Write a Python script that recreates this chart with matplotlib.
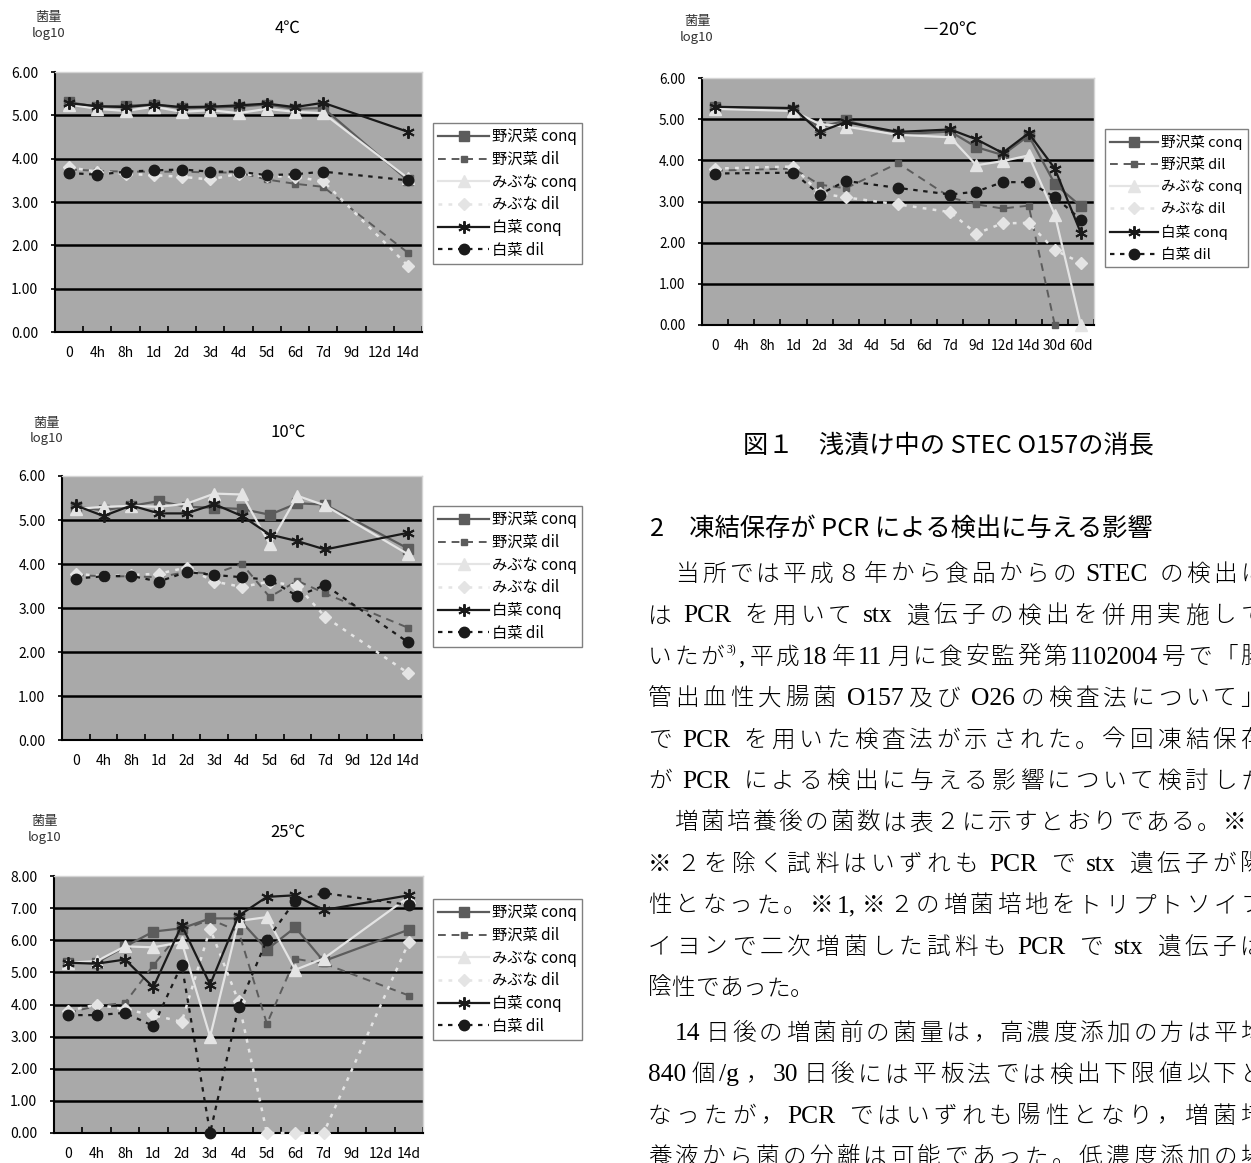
import re
import numpy as np
import matplotlib
matplotlib.use('Agg')
import matplotlib.pyplot as plt
from matplotlib.ticker import FormatStrFormatter

plt.rcParams['font.family'] = ['Noto Sans CJK JP', 'DejaVu Sans']

nan = np.nan
W, H = 1251, 1163

cats_short = ['0', '4h', '8h', '1d', '2d', '3d', '4d', '5d', '6d', '7d', '9d', '12d', '14d']
cats_long = cats_short + ['30d', '60d']
names = ['野沢菜 conq', '野沢菜 dil', 'みぶな conq', 'みぶな dil', '白菜 conq', '白菜 dil']

# 4℃
noz_conq_4 = [5.30, 5.20, 5.22, 5.25, 5.17, 5.18, 5.20, 5.25, 5.15, 5.17, nan, nan, 3.50]
noz_dil_4 = [3.75, 3.72, 3.70, 3.70, 3.70, 3.68, 3.68, 3.52, 3.42, 3.35, nan, nan, 1.83]
mib_conq_4 = [5.25, 5.15, 5.10, 5.20, 5.08, 5.12, 5.05, 5.15, 5.08, 5.05, nan, nan, 3.55]
mib_dil_4 = [3.80, 3.70, 3.65, 3.62, 3.58, 3.52, 3.65, 3.60, 3.58, 3.48, nan, nan, 1.53]
hak_conq_4 = [5.28, 5.21, 5.19, 5.25, 5.19, 5.20, 5.23, 5.27, 5.19, 5.29, nan, nan, 4.62]
hak_dil_4 = [3.67, 3.63, 3.70, 3.73, 3.75, 3.70, 3.70, 3.62, 3.64, 3.70, nan, nan, 3.50]

# 10℃
noz_conq_10 = [5.30, 5.22, 5.32, 5.43, 5.30, 5.28, 5.25, 5.12, 5.38, 5.35, nan, nan, 4.35]
noz_dil_10 = [3.75, 3.72, 3.72, 3.70, 3.82, 3.78, 4.00, 3.25, 3.62, 3.33, nan, nan, 2.55]
mib_conq_10 = [5.25, 5.30, 5.32, 5.30, 5.37, 5.60, 5.58, 4.45, 5.55, 5.33, nan, nan, 4.22]
mib_dil_10 = [3.78, 3.72, 3.75, 3.78, 3.92, 3.60, 3.48, 3.60, 3.50, 2.80, nan, nan, 1.52]
hak_conq_10 = [5.33, 5.09, 5.33, 5.15, 5.15, 5.36, 5.09, 4.67, 4.52, 4.33, nan, nan, 4.71]
hak_dil_10 = [3.67, 3.72, 3.73, 3.60, 3.82, 3.75, 3.70, 3.64, 3.27, 3.52, nan, nan, 2.22]

# 25℃
noz_conq_25 = [5.30, 5.30, 5.80, 6.27, 6.37, 6.68, 6.68, 5.71, 6.40, 5.35, nan, nan, 6.33]
noz_dil_25 = [3.75, 3.95, 4.05, 5.22, 6.30, 6.65, 6.28, 3.40, 5.42, 5.28, nan, nan, 4.28]
mib_conq_25 = [5.30, 5.35, 5.81, 5.78, 5.94, 3.00, 6.60, 6.72, 5.08, 5.43, nan, nan, 7.35]
mib_dil_25 = [3.80, 4.00, 3.85, 3.67, 3.46, 6.36, 4.10, 0.00, 0.00, 0.00, nan, nan, 5.94]
hak_conq_25 = [5.30, 5.27, 5.40, 4.54, 6.47, 4.62, 6.76, 7.35, 7.40, 6.94, nan, nan, 7.40]
hak_dil_25 = [3.67, 3.67, 3.74, 3.33, 5.24, 0.00, 3.92, 6.01, 7.23, 7.47, nan, nan, 7.10]

# -20℃
noz_conq_m20 = [5.30, nan, nan, 5.22, 4.80, 4.97, nan, 4.63, nan, 4.70, 4.32, 4.13, 4.60, 3.43, 2.88]
noz_dil_m20 = [3.75, nan, nan, 3.80, 3.41, 3.32, nan, 3.93, nan, 3.10, 2.93, 2.83, 2.90, 0.00, nan]
mib_conq_m20 = [5.25, nan, nan, 5.20, 4.88, 4.82, nan, 4.62, nan, 4.56, 3.88, 3.98, 4.12, 2.68, 0.00]
mib_dil_m20 = [3.80, nan, nan, 3.85, 3.20, 3.10, nan, 2.93, nan, 2.74, 2.22, 2.47, 2.48, 1.82, 1.51]
hak_conq_m20 = [5.30, nan, nan, 5.27, 4.69, 4.93, nan, 4.69, nan, 4.75, 4.51, 4.18, 4.66, 3.80, 2.23]
hak_dil_m20 = [3.68, nan, nan, 3.70, 3.17, 3.50, nan, 3.33, nan, 3.17, 3.24, 3.47, 3.47, 3.11, 2.56]

styles = [
    dict(color='#5c5c5c', ls='-', lw=1.6, marker='s', ms=7),
    dict(color='#5c5c5c', ls=(0, (4, 3)), lw=1.4, marker='s', ms=4.5),
    dict(color='#e4e4e4', ls='-', lw=1.6, marker='^', ms=8),
    dict(color='#e4e4e4', ls=(0, (1.5, 2.5)), lw=1.8, marker='D', ms=6),
    dict(color='#1a1a1a', ls='-', lw=1.6, marker=(6, 2, 0), ms=9, mew=1.4),
    dict(color='#1a1a1a', ls=(0, (2, 2.5)), lw=1.6, marker='o', ms=7.5),
]

fig = plt.figure(figsize=(W / 100, H / 100), dpi=100)
fig.patch.set_facecolor('white')
renderer = fig.canvas.get_renderer()


def rect(x0, y0, x1, y1):
    return [x0 / W, 1 - y1 / H, (x1 - x0) / W, (y1 - y0) / H]


def ftext(x, y, s, **kw):
    return fig.text(x / W, 1 - y / H, s, **kw)


def draw_chart(box, cats, series, ymax, title, title_xy, unit_xy, leg_xy,
               fs=10, lfs=11, tfs=12, lsp=0.37):
    ax = fig.add_axes(rect(*box))
    ax.set_facecolor('#a9a9a9')
    x = np.arange(len(cats))
    for name, vals, st in zip(names, series, styles):
        v = np.asarray(vals, float)
        ok = ~np.isnan(v)
        ax.plot(x[ok], v[ok], label=name, zorder=3, clip_on=False, **st)
    ax.set_xlim(-0.5, len(cats) - 0.5)
    ax.set_ylim(0, ymax)
    ax.set_yticks(np.arange(0, ymax + 1, 1))
    ax.yaxis.set_major_formatter(FormatStrFormatter('%.2f'))
    for v in ax.get_yticks()[1:-1]:
        ax.axhline(v, color='black', lw=1.8, zorder=1)
    ax.set_xticks(x)
    ax.set_xticklabels(cats)
    ax.set_xticks(np.arange(len(cats) + 1) - 0.5, minor=True)
    ax.tick_params(axis='x', which='major', length=0, pad=10, labelsize=fs)
    ax.tick_params(axis='x', which='minor', direction='in', length=4, width=1.2)
    ax.tick_params(axis='y', direction='out', length=3, width=1.2, pad=9, labelsize=fs)
    for s in ('left', 'bottom'):
        ax.spines[s].set_color('black')
        ax.spines[s].set_linewidth(1.5)
    for s in ('top', 'right'):
        ax.spines[s].set_color('#d4d4d4')
        ax.spines[s].set_linewidth(1)
    ftext(*title_xy, title, fontsize=tfs, ha='center', va='center')
    ftext(unit_xy[0], unit_xy[1], '菌量', fontsize=9.5, ha='center', va='center', color='#333333')
    ftext(unit_xy[0], unit_xy[1] + 16, 'log10', fontsize=9.5, ha='center', va='center', color='#333333')
    leg = ax.legend(loc='upper left', bbox_to_anchor=(leg_xy[0] / W, 1 - leg_xy[1] / H),
                    bbox_transform=fig.transFigure, borderaxespad=0, fontsize=lfs,
                    frameon=True, fancybox=False, framealpha=1, edgecolor='#808080',
                    handlelength=3.3, handletextpad=0.2, labelspacing=lsp,
                    borderpad=0.35, numpoints=1)
    leg.get_frame().set_linewidth(1)
    return ax


draw_chart((55, 72, 422, 332), cats_short,
           [noz_conq_4, noz_dil_4, mib_conq_4, mib_dil_4, hak_conq_4, hak_dil_4],
           6, '4℃', (288, 28), (49, 18), (433, 123))
draw_chart((62, 476, 422, 740), cats_short,
           [noz_conq_10, noz_dil_10, mib_conq_10, mib_dil_10, hak_conq_10, hak_dil_10],
           6, '10℃', (288, 432), (47, 423), (433, 506))
draw_chart((54, 876, 423, 1133), cats_short,
           [noz_conq_25, noz_dil_25, mib_conq_25, mib_dil_25, hak_conq_25, hak_dil_25],
           8, '25℃', (288, 832), (45, 822), (433, 899))
draw_chart((702, 78, 1094, 325), cats_long,
           [noz_conq_m20, noz_dil_m20, mib_conq_m20, mib_dil_m20, hak_conq_m20, hak_dil_m20],
           6, '－20℃', (949, 30), (697, 22), (1105, 129), fs=9.8, lfs=10.5, tfs=13, lsp=0.55)


# ---- text column ----
def fit_text(s, x0, x1, y, size):
    # one string in natural spacing, size scaled so that it spans x0..x1
    t = ftext(x0, y, s, fontsize=size, ha='left', va='center')
    w = t.get_window_extent(renderer).width
    t.set_fontsize(size * (x1 - x0) / w)
    return t


def put_line(s, x0, y, size, x1=None, latin='Liberation Serif', weight='light'):
    em = size * 100 / 72
    toks = re.findall(r'\^[^^]+\^|[!-~]+|.', s)
    base = y + 0.38 * em
    items = []
    for t in toks:
        if t.startswith('^'):
            obj = ftext(0, base - 0.45 * em, t[1:-1], fontsize=size * 0.5,
                        family=latin, ha='left', va='baseline')
            w = obj.get_window_extent(renderer).width + 1
        elif t == ' ':
            obj, w = None, 0.12 * em
        elif ord(t[0]) < 0x80:
            obj = ftext(0, base, t, fontsize=size * 1.08, family=latin,
                        ha='left', va='baseline')
            w = obj.get_window_extent(renderer).width + 2
        else:
            obj = ftext(0, base, t, fontsize=size, family='Noto Sans CJK JP',
                        weight=weight, ha='left', va='baseline')
            w = em
        items.append((obj, w))
    gap = 0
    if x1 is not None and len(items) > 1:
        gap = (x1 - x0 - sum(w for _, w in items)) / (len(items) - 1)
    x = x0
    for obj, w in items:
        if obj is not None:
            obj.set_x(x / W)
        x += w + gap


fit_text('図１　浅漬け中の STEC O157の消長', 743, 1154, 446, 16)
fit_text('2　凍結保存が PCR による検出に与える影響', 650, 1154, 529, 16)

body = [
    '　当所では平成８年から食品からの STEC の検出に',
    'は PCR を用いて stx 遺伝子の検出を併用実施して',
    'いたが^3)^,平成18年11月に食安監発第1102004号で「腸',
    '管出血性大腸菌 O157及び O26の検査法について」',
    'で PCR を用いた検査法が示された。今回凍結保存',
    'が PCR による検出に与える影響について検討した',
    '　増菌培養後の菌数は表２に示すとおりである。※1',
    '※２を除く試料はいずれも PCR で stx 遺伝子が陽',
    '性となった。※1,※２の増菌培地をトリプトソイブ',
    'イヨンで二次増菌した試料も PCR で stx 遺伝子は',
    '陰性であった。',
    '　14日後の増菌前の菌量は，高濃度添加の方は平均',
    '840個/g，30日後には平板法では検出下限値以下と',
    'なったが，PCR ではいずれも陽性となり，増菌培',
    '養液から菌の分離は可能であった。低濃度添加の場',
]
for i, line in enumerate(body):
    y = 572 + 41.4 * i if i < 11 else 1031 + 41.4 * (i - 11)
    right = None if line == '陰性であった。' else 1264
    put_line(line, 648, y, 17, x1=right)

fig.savefig('out.png', dpi=100)
